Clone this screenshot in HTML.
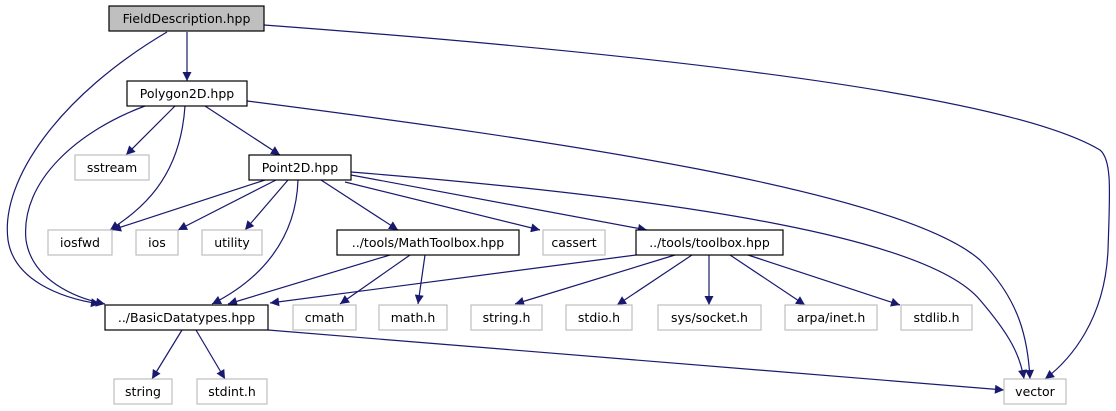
<!DOCTYPE html>
<html><head><meta charset="utf-8"><style>
html,body{margin:0;padding:0;background:#fff;width:1116px;height:411px;overflow:hidden}
text{font-family:"DejaVu Sans","Liberation Sans",sans-serif;font-size:12.5px;fill:#000;text-anchor:middle;dominant-baseline:central}
.e{fill:none;stroke:#191970;stroke-width:1.2}
.b{fill:#fff;stroke:#000;stroke-width:1.2}
.g{fill:#fff;stroke:#bfbfbf;stroke-width:1.2}
</style></head><body>
<svg width="1116" height="411" viewBox="0 0 1116 411" xmlns="http://www.w3.org/2000/svg">
<defs><marker id="a" viewBox="0 0 10 10" refX="10" refY="5" markerWidth="10" markerHeight="9" markerUnits="userSpaceOnUse" orient="auto"><path d="M0,0 L10,5 L0,10 z" fill="#191970"/></marker></defs>
<g class="e" marker-end="url(#a)">
<path d="M187,32 L187,81"/>
<path d="M167,32 C60,95 0,180 8,240 C14,280 60,298 100,304"/>
<path d="M264,25 C600,50 1000,90 1100,150 C1112,160 1110,190 1108,250 C1105,320 1070,360 1045,379"/>
<path d="M175,106 L126,155"/>
<path d="M185,106 C180,180 140,210 110,230"/>
<path d="M145,106 C80,130 20,180 26,240 C32,280 75,298 105,304"/>
<path d="M205,106 L280,155"/>
<path d="M247,101 C550,140 900,190 980,260 C1020,300 1028,340 1030,379"/>
<path d="M265,180 L112,230"/>
<path d="M276,180 L178,230"/>
<path d="M288,180 L245,230"/>
<path d="M298,180 C296,240 260,280 212,304"/>
<path d="M321,180 L398,230"/>
<path d="M345,182 L540,230"/>
<path d="M351,175 L647,230"/>
<path d="M351,172 C700,200 930,240 980,300 C1010,335 1020,355 1024,379"/>
<path d="M390,255 L228,304"/>
<path d="M410,255 L340,304"/>
<path d="M425,255 L418,304"/>
<path d="M636,255 L270,303"/>
<path d="M675,255 L515,304"/>
<path d="M692,255 L617,305"/>
<path d="M709,255 L709,305"/>
<path d="M730,255 L805,305"/>
<path d="M748,255 L900,305"/>
<path d="M182,330 L152,379"/>
<path d="M196,330 L225,379"/>
<path d="M268,330 L1004,390"/>
</g>
<rect x="109" y="6" width="155" height="25" fill="#bfbfbf" stroke="#000" stroke-width="1.2"/><text x="186.5" y="18.5">FieldDescription.hpp</text>
<rect class="b" x="127" y="81" width="120" height="25"/><text x="187" y="93.5">Polygon2D.hpp</text>
<rect class="g" x="75" y="155" width="74" height="25"/><text x="112" y="167.5">sstream</text>
<rect class="b" x="249" y="155" width="102" height="25"/><text x="300" y="167.5">Point2D.hpp</text>
<rect class="g" x="48" y="230" width="64" height="25"/><text x="80" y="242.5">iosfwd</text>
<rect class="g" x="136" y="230" width="42" height="25"/><text x="157" y="242.5">ios</text>
<rect class="g" x="202" y="230" width="60" height="25"/><text x="232" y="242.5">utility</text>
<rect class="b" x="337" y="230" width="182" height="25"/><text x="428" y="242.5">../tools/MathToolbox.hpp</text>
<rect class="g" x="543" y="230" width="62" height="25"/><text x="574" y="242.5">cassert</text>
<rect class="b" x="636" y="230" width="147" height="25"/><text x="709.5" y="242.5">../tools/toolbox.hpp</text>
<rect class="b" x="105" y="305" width="163" height="25"/><text x="186.5" y="317.5">../BasicDatatypes.hpp</text>
<rect class="g" x="293" y="305" width="63" height="25"/><text x="324.5" y="317.5">cmath</text>
<rect class="g" x="379" y="305" width="68" height="25"/><text x="413" y="317.5">math.h</text>
<rect class="g" x="471" y="305" width="71" height="25"/><text x="506.5" y="317.5">string.h</text>
<rect class="g" x="566" y="305" width="66" height="25"/><text x="599" y="317.5">stdio.h</text>
<rect class="g" x="658" y="305" width="103" height="25"/><text x="709.5" y="317.5">sys/socket.h</text>
<rect class="g" x="785" y="305" width="92" height="25"/><text x="831" y="317.5">arpa/inet.h</text>
<rect class="g" x="901" y="305" width="71" height="25"/><text x="936.5" y="317.5">stdlib.h</text>
<rect class="g" x="114" y="379" width="58" height="25"/><text x="143" y="391.5">string</text>
<rect class="g" x="197" y="379" width="70" height="25"/><text x="232" y="391.5">stdint.h</text>
<rect class="g" x="1004" y="379" width="62" height="25"/><text x="1035" y="391.5">vector</text>
</svg>
</body></html>
